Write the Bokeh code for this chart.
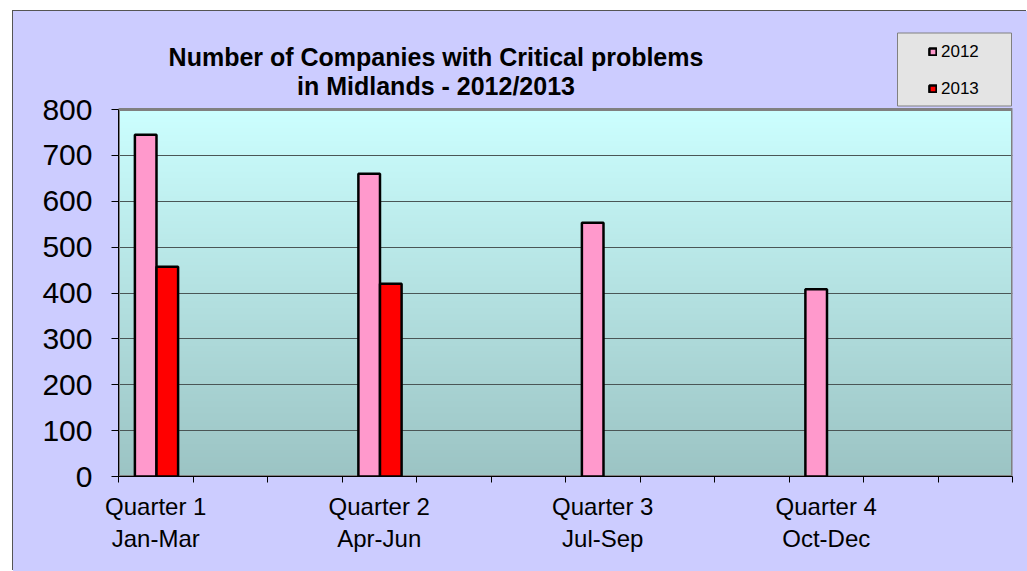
import numpy as np
from bokeh.plotting import figure
from bokeh.models import (Range1d, FixedTicker, Legend, LegendItem, Label,
                          BoxAnnotation, ColumnDataSource)
from bokeh.embed import file_html
from bokeh.resources import INLINE

# ---------------- data ----------------
quarters = ["Quarter 1\nJan-Mar", "Quarter 2\nApr-Jun", "Quarter 3\nJul-Sep", "Quarter 4\nOct-Dec"]
series_names = ["2012", "2013"]
values_2012 = [745, 660, 553, 408]
values_2013 = [457, 420, None, None]
y_ticks = [0, 100, 200, 300, 400, 500, 600, 700, 800]
title_lines = ["Number of Companies with Critical problems", "in Midlands - 2012/2013"]
slots_per_quarter = 3   # the category axis has 12 monthly slots
n_slots = 12

# ---------------- styling / layout ----------------
FONT = "Liberation Sans"
PINK = "#FF99CC"
RED = "#FF0000"
LAVENDER = "#CCCCFF"
BAR_W = 0.29
GROUP_SHIFT = 0.01

# page geometry (canvas placed at page (13, 11) by the margin)
OX, OY = 13, 11
FL, FR, FT, FB = 118, 1012, 11, 476      # frame edges (page px)
PLOT_TOP = 109                            # page y of the value 800
frame_w = FR - FL
frame_h = FB - FT
y_max = y_ticks[-1]
y_end = y_max * frame_h / (FB - PLOT_TOP)

centers = [i * slots_per_quarter + GROUP_SHIFT for i in range(len(quarters))]
src12 = ColumnDataSource(dict(x=[c - BAR_W / 2 for c in centers],
                              top=np.array(values_2012, dtype=float)))
src13 = ColumnDataSource(dict(x=[c + BAR_W / 2 for c in centers],
                              top=np.array([np.nan if v is None else v for v in values_2013], dtype=float)))

x0, x1 = -0.5, n_slots - 0.5
p = figure(frame_width=frame_w, frame_height=frame_h,
           x_range=Range1d(x0, x1), y_range=Range1d(0, y_end),
           output_backend="svg", toolbar_location=None,
           min_border_left=FL - OX, min_border_right=1027 - FR, min_border_top=FT - OY,
           min_border_bottom=571 - FB,
           background_fill_color=LAVENDER, background_fill_alpha=0,
           border_fill_color=LAVENDER, border_fill_alpha=0,
           outline_line_color=None)
p.margin = (OY, 0, 0, OX)
p.styles = {"box-shadow": "-1px -1px 0px 0px #555555", "background-color": LAVENDER}

# gradient plot-area background
n = 256
top_c = np.array([0xCC, 0xFF, 0xFF], dtype=float)
bot_c = np.array([0x9C, 0xC4, 0xC4], dtype=float)
t = np.linspace(0, 1, n)[:, None]
rgb = bot_c + (top_c - bot_c) * t
img = np.empty((n, 1), dtype=np.uint32)
view = img.view(dtype=np.uint8).reshape((n, 1, 4))
view[:, 0, 0] = rgb[:, 0]
view[:, 0, 1] = rgb[:, 1]
view[:, 0, 2] = rgb[:, 2]
view[:, 0, 3] = 255
p.image_rgba(image=[img], x=x0, y=y_ticks[0], dw=x1 - x0, dh=y_max - y_ticks[0], level="image")

# grid lines
p.xgrid.visible = False
p.ygrid.ticker = FixedTicker(ticks=y_ticks[1:-1])
p.ygrid.grid_line_color = "#4A5656"
p.ygrid.grid_line_width = 1

# plot-area border (grey top and right edges)
plot_area = BoxAnnotation(left=x0, right=x1, bottom=y_ticks[0], top=y_max,
                          fill_alpha=0, line_color="#808080", line_alpha=1, line_width=3,
                          level="underlay")
p.add_layout(plot_area)

# bars
r12 = p.vbar(x="x", top="top", width=BAR_W, source=src12, fill_color=PINK, line_color="black", line_width=2.5)
r13 = p.vbar(x="x", top="top", width=BAR_W, source=src13, fill_color=RED, line_color="black", line_width=2.5)

# axes
xa = p.xaxis[0]
label_pos = [i * slots_per_quarter for i in range(len(quarters))]
xa.ticker = FixedTicker(ticks=label_pos, minor_ticks=[k - 0.5 for k in range(n_slots + 1)])
xa.major_label_overrides = {pos: lab for pos, lab in zip(label_pos, quarters)}
xa.major_tick_out = 0
xa.major_tick_in = 0
xa.minor_tick_out = 6
xa.minor_tick_in = 0
xa.axis_line_color = "black"
xa.minor_tick_line_color = "black"
xa.major_label_text_font = FONT
xa.major_label_text_font_size = "24px"
xa.major_label_text_color = "black"
xa.major_label_standoff = 10
xa.major_label_text_line_height = 1.2

ya = p.yaxis[0]
ya.ticker = FixedTicker(ticks=y_ticks)
ya.bounds = (y_ticks[0], y_max)
ya.major_tick_out = 7
ya.major_tick_in = 0
ya.axis_line_color = "black"
ya.major_tick_line_color = "black"
ya.major_label_text_font = FONT
ya.major_label_text_font_size = "30px"
ya.major_label_text_color = "black"
ya.major_label_standoff = 19

# title (inside the extended frame, above the plot area)
for txt, base_y in zip(title_lines, [56, 85]):
    p.add_layout(Label(x=435.5 - FL, y=FB - base_y, x_units="screen", y_units="screen", text=txt,
                       text_font=FONT, text_font_style="bold", text_font_size="25px",
                       text_align="center", text_baseline="alphabetic", text_color="black"))

# legend box + legend
leg_box = BoxAnnotation(left=897 - FL, right=1011 - FL, top=FB - 32.5, bottom=FB - 105.5,
                        left_units="screen", right_units="screen", top_units="screen", bottom_units="screen",
                        fill_color="#E4E4E4", fill_alpha=1, line_color="#808080", line_alpha=1, line_width=1)
p.add_layout(leg_box)

legend = Legend(items=[LegendItem(label=series_names[0], renderers=[r12]),
                       LegendItem(label=series_names[1], renderers=[r13])],
                location=(923 - FL, FB - 36.7 - 67), orientation="vertical",
                background_fill_alpha=0, border_line_alpha=0, padding=5, spacing=17,
                glyph_width=9, glyph_height=9, label_height=20, label_standoff=4,
                label_text_font=FONT, label_text_font_size="17px", label_text_color="black", margin=0)
p.add_layout(legend)

open("out.html", "w").write(file_html(p, INLINE))
